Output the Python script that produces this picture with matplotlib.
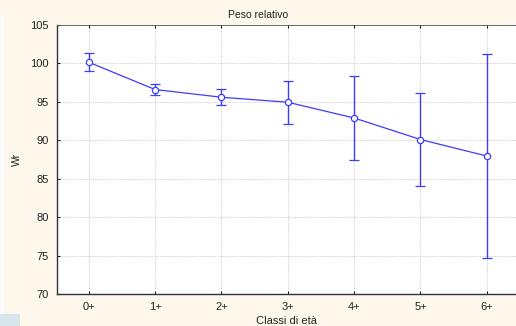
import matplotlib.pyplot as plt
from matplotlib.patches import Rectangle

# Peso relativo (Wr) per classe di età: media e semi-ampiezza dell'intervallo
classi = ['0+', '1+', '2+', '3+', '4+', '5+', '6+']
wr_medio = [100.15, 96.6, 95.6, 94.95, 92.9, 90.1, 87.95]
wr_err = [1.17, 0.76, 1.04, 2.82, 5.5, 6.1, 13.25]

plt.rcParams['font.family'] = ['Liberation Sans', 'DejaVu Sans']

BG = '#fef8ec'
BLU = '#3c3cff'

fig = plt.figure(figsize=(5.16, 3.26), dpi=100)
fig.patch.set_facecolor(BG)

# strisce chiare sul bordo sinistro
fig.patches.append(Rectangle((0, 12 / 326), 4 / 516, 298 / 326,
                             transform=fig.transFigure, facecolor='#fbfcfc',
                             edgecolor='none', zorder=0))
fig.patches.append(Rectangle((0, 0), 20 / 516, 12 / 326,
                             transform=fig.transFigure, facecolor='#d6e6ea',
                             edgecolor='none', zorder=0))

ax = fig.add_axes([57 / 516, 32 / 326, 1 - 57 / 516, 269 / 326])
ax.set_facecolor('white')

x = list(range(len(classi)))
ax.errorbar(x, wr_medio, yerr=wr_err, color=BLU, lw=0.9, elinewidth=1.0,
            capsize=3.5, capthick=1.0, marker='o', ms=4.5,
            mfc='white', mec=BLU, mew=0.9, zorder=3)

ax.set_xlim(-0.48, 6.44)
ax.set_ylim(70, 105)
ax.set_xticks(x)
ax.set_xticklabels(classi)
ax.set_yticks(range(70, 106, 5))

ax.grid(True, color='#c8c8c8', ls=(0, (1.5, 1.5)), lw=0.6)
ax.set_axisbelow(True)

for s in ['left', 'bottom']:
    ax.spines[s].set_color('#333333')
    ax.spines[s].set_linewidth(1.0)
ax.spines['top'].set_color('#555555')
ax.spines['top'].set_linewidth(0.6)
ax.spines['right'].set_visible(False)

ax.tick_params(axis='both', direction='in', length=2, width=0.8,
               colors='#222222', labelsize=8, pad=6)
ax.tick_params(axis='x', top=True)

ax.set_title('Peso relativo', fontsize=7.5, color='#222222', pad=5, x=0.438)
ax.set_ylabel('Wr', fontsize=7.5, color='#222222', labelpad=6)
ax.set_xlabel('Classi di età', fontsize=8, color='#222222', labelpad=3)

fig.savefig('out.png', dpi=100, facecolor=BG)
